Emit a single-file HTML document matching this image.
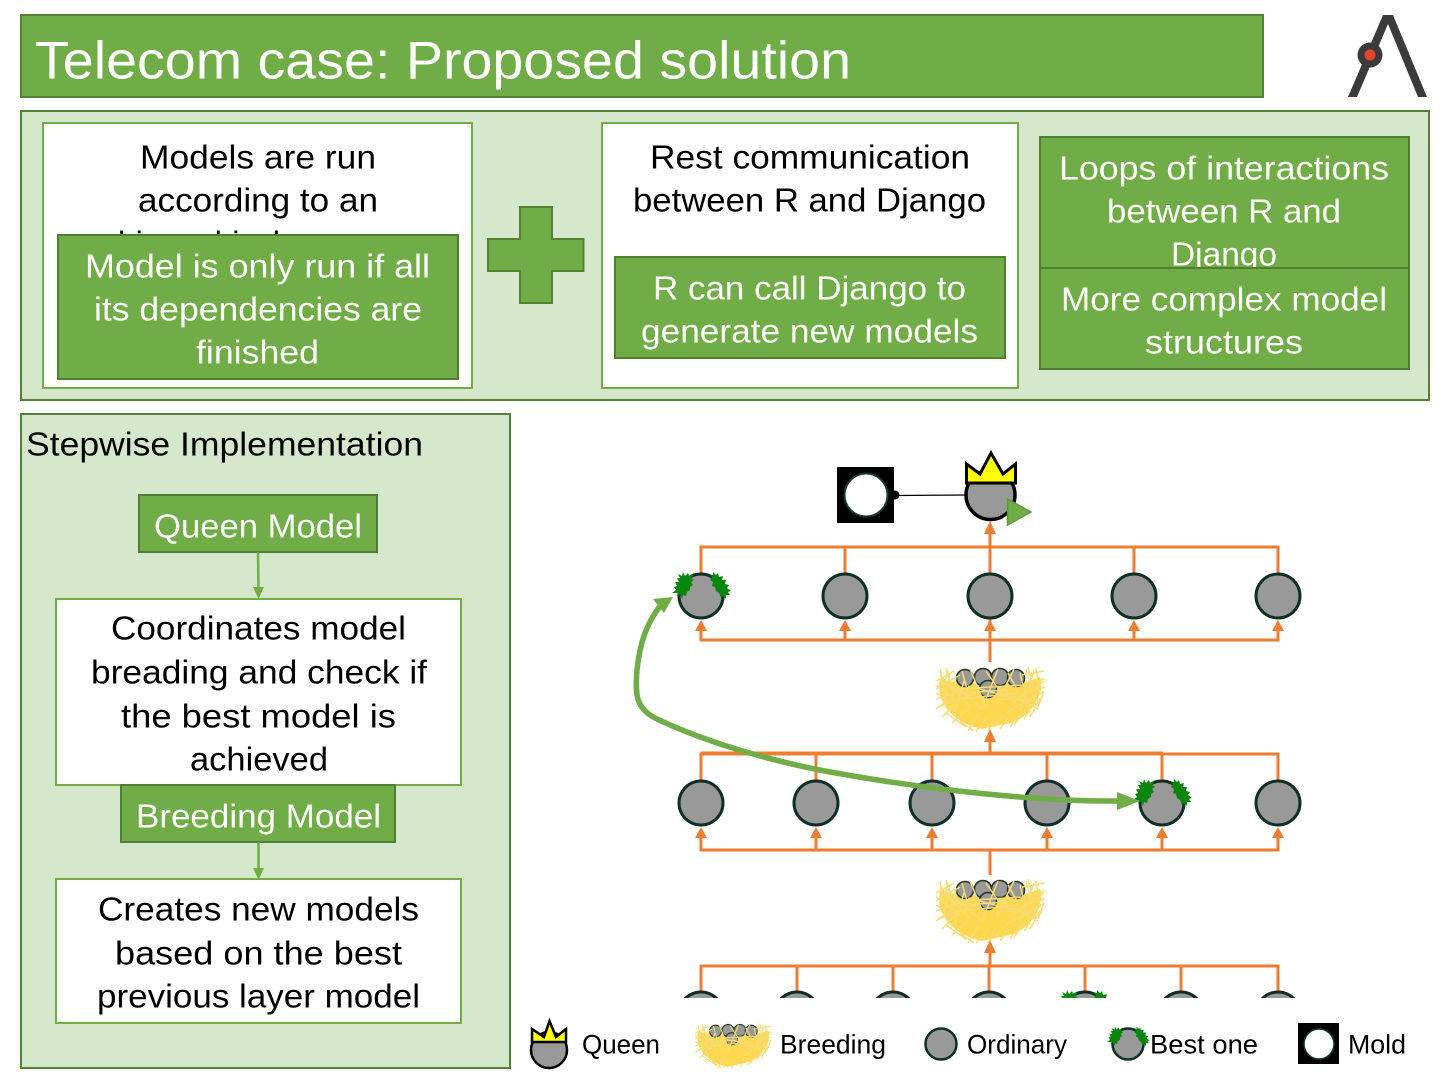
<!DOCTYPE html>
<html><head><meta charset="utf-8"><style>html,body{margin:0;padding:0;background:#fff}svg{display:block}text{font-family:"Liberation Sans",sans-serif;transform:translateY(-.7px)}</style></head>
<body>
<svg width="1440" height="1080" viewBox="0 0 1440 1080" xmlns="http://www.w3.org/2000/svg">
<defs>
<g id="nest">
<path d="M-50,-16 L-36,-13 C-15,-11 20,-11 36,-13 L50,-18 C55,-4 44,18 24,27 L-8,34 C-36,28 -55,8 -50,-16Z" fill="#FFD84F"/>
<g fill="#999" stroke="#22382f" stroke-width="1.600">
<circle cx="-25" cy="-17" r="8.500"/><circle cx="-7" cy="-18" r="8.500"/><circle cx="10" cy="-18" r="8.500"/><circle cx="26" cy="-17" r="8.500"/><circle cx="-2" cy="-6" r="8.500"/>
</g>
<path d="M-54,-10L-30,8M-50,-20L-20,12M-48,-4L-42,-24M-40,-22L-46,8M-34,-18L-40,16M-26,-14L-36,20M-54,4L-20,-8M-52,12L-14,-2M-30,-2L18,-5M-22,-9L24,3M-38,-12L-8,14M-20,-26L-4,12M8,-26L-8,14M24,-26L6,10M30,-22L40,18M36,-26L46,12M44,-24L30,16M54,-14L22,8M54,-4L16,18M52,6L10,4M48,14L14,-4M-44,18L-24,32M-30,26L-16,36M-14,36L-2,22M4,32L14,20M20,32L30,18M34,24L44,8M-50,-14L-42,-10M-28,-24L-22,-2M-4,-24L14,2M18,-22L28,-4M-36,-6L36,-10M-28,4L28,-2M-54,-14L-36,-24M-54,-6L-30,-20M-50,-26L-46,-6M-44,-27L-38,-4M38,-28L44,-4M46,-26L50,0M32,-20L54,-24M36,-12L55,-16M40,-4L55,-8M-54,14L-40,4M-48,22L-34,8M-38,28L-22,14M-22,36L-12,20M-2,36L4,24M10,34L18,22M24,30L36,14M40,22L50,4M-54,-2L-44,4M48,12L54,-4" fill="none" stroke="#F6DC72" stroke-width="1.500"/>
</g>
<g id="moss" fill="#0A860F">
<polygon points="-18,-24 -16,-20 -13,-23 -12,-20 -7,-23 -10,-18 -7,-16 -10,-14 -8,-11 -11,-9 -11,-6 -14,-4 -15,0 -18,-1 -19,3 -21,-2 -24,0 -23,-3 -29,-3 -25,-6 -27,-9 -24,-10 -26,-14 -22,-14 -24,-18 -21,-18 -23,-22 -19,-20"/>
<polygon points="12,-24 15,-21 17,-23 18,-19 22,-20 21,-16 25,-16 24,-12 28,-11 26,-8 30,-5 27,-4 29,-1 25,-1 25,3 22,0 20,2 18,-3 15,-5 14,-9 11,-10 12,-14 9,-16 11,-19 8,-22 12,-21"/>
</g>
</defs>

<rect x="21" y="15" width="1242" height="82" fill="#70AD47" stroke="#548235" stroke-width="2"/>
<text x="35" y="79" font-size="53" fill="#fff" textLength="816" lengthAdjust="spacingAndGlyphs">Telecom case: Proposed solution</text>

<polygon points="1383,15 1393,15 1427,97 1418,97 1388,24 1357,97 1348,97" fill="#3B3B3B"/>
<circle cx="1370" cy="55" r="12.500" fill="#3B3B3B"/><circle cx="1370" cy="55" r="5.500" fill="#E8432E"/>

<rect x="21" y="111" width="1408" height="289" fill="#D5E8CB" stroke="#548235" stroke-width="2"/>
<rect x="43" y="123" width="429" height="265" fill="#fff" stroke="#70AD47" stroke-width="2"/>
<g font-size="33" fill="#000">
<text x="140" y="169" textLength="236" lengthAdjust="spacingAndGlyphs">Models are run</text>
<text x="138" y="212" textLength="240" lengthAdjust="spacingAndGlyphs">according to an</text>
<text x="118" y="255" textLength="278" lengthAdjust="spacingAndGlyphs">hierarchical manner</text>
</g>
<rect x="58" y="235" width="400" height="144" fill="#70AD47" stroke="#507E32" stroke-width="2"/>
<g font-size="33" fill="#fff">
<text x="85" y="278" textLength="345" lengthAdjust="spacingAndGlyphs">Model is only run if all</text>
<text x="94" y="321" textLength="328" lengthAdjust="spacingAndGlyphs">its dependencies are</text>
<text x="196" y="364" textLength="123" lengthAdjust="spacingAndGlyphs">finished</text>
</g>
<path d="M520,207H552V239H583.500V271H552V303H520V271H488V239H520Z" fill="#70AD47" stroke="#548235" stroke-width="2"/>
<rect x="602" y="123" width="416" height="265" fill="#fff" stroke="#70AD47" stroke-width="2"/>
<g font-size="33" fill="#000">
<text x="650" y="169" textLength="320" lengthAdjust="spacingAndGlyphs">Rest communication</text>
<text x="633" y="212" textLength="353" lengthAdjust="spacingAndGlyphs">between R and Django</text>
</g>
<rect x="615" y="257" width="390" height="101" fill="#70AD47" stroke="#507E32" stroke-width="2"/>
<g font-size="33" fill="#fff">
<text x="653" y="300" textLength="313" lengthAdjust="spacingAndGlyphs">R can call Django to</text>
<text x="641" y="343" textLength="337" lengthAdjust="spacingAndGlyphs">generate new models</text>
</g>
<rect x="1040" y="137" width="369" height="131" fill="#70AD47" stroke="#507E32" stroke-width="2"/>
<g font-size="33" fill="#fff">
<text x="1059" y="180" textLength="330" lengthAdjust="spacingAndGlyphs">Loops of interactions</text>
<text x="1107" y="223" textLength="234" lengthAdjust="spacingAndGlyphs">between R and</text>
<text x="1171" y="266" textLength="106" lengthAdjust="spacingAndGlyphs">Django</text>
</g>
<rect x="1040" y="268" width="369" height="101" fill="#70AD47" stroke="#507E32" stroke-width="2"/>
<g font-size="33" fill="#fff">
<text x="1061" y="311" textLength="326" lengthAdjust="spacingAndGlyphs">More complex model</text>
<text x="1145" y="354" textLength="158" lengthAdjust="spacingAndGlyphs">structures</text>
</g>

<rect x="21" y="414" width="489" height="654" fill="#D5E8CB" stroke="#548235" stroke-width="2"/>
<text x="26" y="456" font-size="33" fill="#000" textLength="397" lengthAdjust="spacingAndGlyphs">Stepwise Implementation</text>
<rect x="139" y="495" width="238" height="57" fill="#70AD47" stroke="#507E32" stroke-width="2"/>
<text x="154" y="538" font-size="33" fill="#fff" textLength="208" lengthAdjust="spacingAndGlyphs">Queen Model</text>
<path d="M258,552L258.500,590" stroke="#70AD47" stroke-width="2.500" fill="none"/><polygon points="253,587 264,587 258.500,599" fill="#70AD47"/>
<rect x="56" y="599" width="405" height="186" fill="#fff" stroke="#70AD47" stroke-width="2"/>
<g font-size="33" fill="#000">
<text x="111" y="640" textLength="295" lengthAdjust="spacingAndGlyphs">Coordinates model</text>
<text x="91" y="684" textLength="336" lengthAdjust="spacingAndGlyphs">breading and check if</text>
<text x="121" y="728" textLength="275" lengthAdjust="spacingAndGlyphs">the best model is</text>
<text x="190" y="771" textLength="138" lengthAdjust="spacingAndGlyphs">achieved</text>
</g>
<rect x="121" y="785" width="274" height="57" fill="#70AD47" stroke="#507E32" stroke-width="2"/>
<text x="136" y="828" font-size="33" fill="#fff" textLength="245" lengthAdjust="spacingAndGlyphs">Breeding Model</text>
<path d="M258.500,842V870" stroke="#70AD47" stroke-width="2.500" fill="none"/><polygon points="253,868 264,868 258.500,880" fill="#70AD47"/>
<rect x="56" y="879" width="405" height="144" fill="#fff" stroke="#70AD47" stroke-width="2"/>
<g font-size="33" fill="#000">
<text x="98" y="921" textLength="321" lengthAdjust="spacingAndGlyphs">Creates new models</text>
<text x="115" y="965" textLength="287" lengthAdjust="spacingAndGlyphs">based on the best</text>
<text x="97" y="1008" textLength="323" lengthAdjust="spacingAndGlyphs">previous layer model</text>
</g>

<!-- tree lines -->
<g fill="none" stroke="#ED7D31" stroke-width="3">
<path d="M701,573V547H1278V573M845,547V573M1134,547V573M990,640V530"/>
<path d="M701,625V640H1278V625M845,640V625M990,640V625M1134,640V625M990,640V662"/>
<path d="M990,742V754"/>
<path d="M701,780V754H1278V780M816,754V780M932,754V780M1047,754V780M1162,754V780"/>
<path d="M701,835V850H1278V835M816,850V835M932,850V835M1047,850V835M1162,850V835M990,850V875"/>
<path d="M990,952V966M701,992V966H1278V992M797,966V992M893,966V992M989,966V992M1085,966V992M1181,966V992"/>
</g>
<path d="M701,753.500H1163" stroke="#ED7D31" stroke-width="4" fill="none"/>
<g fill="#ED7D31">
<polygon points="990,521 984,534 996,534"/>
<polygon points="701,620 695,631 707,631"/><polygon points="845,620 839,631 851,631"/><polygon points="990,620 984,631 996,631"/><polygon points="1134,620 1128,631 1140,631"/><polygon points="1278,620 1272,631 1284,631"/>
<polygon points="990,729 984,742 996,742"/>
<polygon points="701,827 695,838 707,838"/><polygon points="816,827 810,838 822,838"/><polygon points="932,827 926,838 938,838"/><polygon points="1047,827 1041,838 1053,838"/><polygon points="1162,827 1156,838 1168,838"/><polygon points="1278,827 1272,838 1284,838"/>
<polygon points="990,940 984,953 996,953"/>
</g>

<!-- mold + queen -->
<rect x="837" y="467" width="57" height="56" fill="#000"/>
<circle cx="866" cy="495" r="21.500" fill="#fff" stroke="#153a33" stroke-width="2"/>
<circle cx="895" cy="495" r="4.500" fill="#000"/>
<path d="M895,495.500L966,495" stroke="#000" stroke-width="1.200"/>
<circle cx="990.500" cy="495" r="24.500" fill="#999" stroke="#000" stroke-width="3.500"/>
<polygon points="966.500,464 980,474 991,453 1003,474 1015.500,464 1015.500,483 966.500,483" fill="#FFFF00" stroke="#000" stroke-width="3"/>
<polygon points="1007.500,499 1031,512 1007.500,525" fill="#70AD47" stroke="#5F9A3B" stroke-width="1.500"/>

<!-- node rows -->
<g fill="#999" stroke="#0F2E28" stroke-width="3">
<circle cx="701" cy="596" r="22"/><circle cx="845" cy="596" r="22"/><circle cx="990" cy="596" r="22"/><circle cx="1134" cy="596" r="22"/><circle cx="1278" cy="596" r="22"/>
<circle cx="701" cy="803" r="22"/><circle cx="816" cy="803" r="22"/><circle cx="932" cy="803" r="22"/><circle cx="1047" cy="803" r="22"/><circle cx="1162" cy="803" r="22"/><circle cx="1278" cy="803" r="22"/>
</g>
<use href="#moss" transform="translate(701,596)"/>
<use href="#moss" transform="translate(1162,803)"/>
<clipPath id="cb"><rect x="600" y="900" width="800" height="98"/></clipPath>
<g clip-path="url(#cb)">
<g fill="#999" stroke="#0F2E28" stroke-width="3">
<circle cx="701" cy="1014" r="22"/><circle cx="797" cy="1014" r="22"/><circle cx="893" cy="1014" r="22"/><circle cx="989" cy="1014" r="22"/><circle cx="1085" cy="1014" r="22"/><circle cx="1181" cy="1014" r="22"/><circle cx="1278" cy="1014" r="22"/>
</g>
<use href="#moss" transform="translate(1085,1014)"/>
</g>

<use href="#nest" transform="translate(990,695)"/>
<use href="#nest" transform="translate(990,907)"/>

<!-- green curved arrow -->
<path d="M1122,801 C1040,802 930,790 830,772 C750,757 690,735 655,718 C636,708 635,695 637,670 C640,640 648,622 660,606" fill="none" stroke="#70AD47" stroke-width="5.500"/>
<polygon points="1140,801 1117,792 1117,810" fill="#70AD47"/>
<polygon points="673,597 653,599 664,613" fill="#70AD47"/>

<!-- legend -->
<circle cx="549" cy="1050" r="18" fill="#999" stroke="#000" stroke-width="2.500"/>
<polygon points="532,1029 544,1037 549.500,1021 556,1037 566,1029 566,1042 532,1042" fill="#FFFF00" stroke="#000" stroke-width="2.500"/>
<use href="#nest" transform="translate(733,1043) scale(0.7)"/>
<circle cx="941" cy="1044" r="15.500" fill="#999" stroke="#0F2E28" stroke-width="2.500"/>
<circle cx="1128" cy="1044" r="15.500" fill="#999" stroke="#0F2E28" stroke-width="2.500"/>
<use href="#moss" transform="translate(1128,1044) scale(0.72)"/>
<rect x="1298" y="1023" width="41" height="41" fill="#000"/>
<circle cx="1319" cy="1044" r="15" fill="#fff" stroke="#153a33" stroke-width="1.500"/>
<g font-size="27" fill="#000">
<text x="582" y="1054" textLength="78" lengthAdjust="spacingAndGlyphs">Queen</text>
<text x="780" y="1054" textLength="106" lengthAdjust="spacingAndGlyphs">Breeding</text>
<text x="967" y="1054" textLength="100" lengthAdjust="spacingAndGlyphs">Ordinary</text>
<text x="1150" y="1054" textLength="108" lengthAdjust="spacingAndGlyphs">Best one</text>
<text x="1348" y="1054" textLength="58" lengthAdjust="spacingAndGlyphs">Mold</text>
</g>
</svg>
</body></html>
